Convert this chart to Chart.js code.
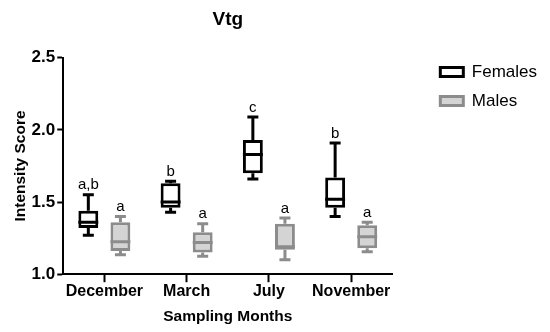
<!DOCTYPE html>
<html>
<head>
<meta charset="utf-8">
<script src="https://cdn.jsdelivr.net/npm/chart.js@4/dist/chart.umd.min.js"></script>
<style>
  html, body { margin: 0; padding: 0; background: #fff; }
  #wrap { width: 550px; height: 332px; }
</style>
</head>
<body>
<div id="wrap"><canvas id="chart"></canvas></div>
<script>
// categories
var months = ['December', 'March', 'July', 'November'];

// females box values
var femalesMin    = [1.27, 1.43, 1.66, 1.40];
var femalesQ1     = [1.32, 1.46, 1.70, 1.46];
var femalesMedian = [1.36, 1.50, 1.83, 1.52];
var femalesQ3     = [1.44, 1.63, 1.93, 1.67];
var femalesMax    = [1.55, 1.645, 2.09, 1.91];
var femalesLetters = ['a,b', 'b', 'c', 'b'];

// males box values
var malesMin    = [1.135, 1.125, 1.10, 1.155];
var malesQ1     = [1.16, 1.15, 1.17, 1.18];
var malesMedian = [1.225, 1.22, 1.19, 1.26];
var malesQ3     = [1.36, 1.29, 1.35, 1.34];
var malesMax    = [1.40, 1.35, 1.39, 1.36];
var malesLetters = ['a', 'a', 'a', 'a'];

// y ticks
var yTicks = [1.0, 1.5, 2.0, 2.5];

var FONT = 'Liberation Sans, Arial, sans-serif';

function cObj(id) {
    return document.getElementById(id);
}

function boxRange(q1, q3) {
    var out = [];
    for (let i = 0; i < q1.length; i++) {
        out.push([q1[i], q3[i]]);
    }
    return out;
}

// whiskers, medians and letters on top of the floating bars
var boxExtras = {
    id: 'boxExtras',
    afterDatasetsDraw: function (chart) {
        var ctx = chart.ctx;
        var y = chart.scales.y;
        var sets = [
            { min: femalesMin, med: femalesMedian, q1: femalesQ1, q3: femalesQ3, max: femalesMax, letters: femalesLetters, color: '#000000' },
            { min: malesMin, med: malesMedian, q1: malesQ1, q3: malesQ3, max: malesMax, letters: malesLetters, color: '#8c8c8c' }
        ];
        ctx.save();
        sets.forEach(function (s, di) {
            var meta = chart.getDatasetMeta(di);
            meta.data.forEach(function (bar, i) {
                var x = bar.x;
                var half = bar.width / 2;
                var capHalf = 5.5;
                var yMin = y.getPixelForValue(s.min[i]);
                var yMax = y.getPixelForValue(s.max[i]);
                var yQ1 = y.getPixelForValue(s.q1[i]);
                var yQ3 = y.getPixelForValue(s.q3[i]);
                var yMed = y.getPixelForValue(s.med[i]);
                ctx.strokeStyle = s.color;
                ctx.lineWidth = 3;
                ctx.lineCap = 'butt';
                ctx.beginPath();
                ctx.moveTo(x, yQ3); ctx.lineTo(x, yMax);
                ctx.moveTo(x, yQ1); ctx.lineTo(x, yMin);
                ctx.moveTo(x - capHalf, yMax); ctx.lineTo(x + capHalf, yMax);
                ctx.moveTo(x - capHalf, yMin); ctx.lineTo(x + capHalf, yMin);
                ctx.moveTo(x - half, yMed); ctx.lineTo(x + half, yMed);
                ctx.stroke();
                ctx.fillStyle = '#000000';
                ctx.font = '15px "Liberation Sans", Arial, sans-serif';
                ctx.textAlign = 'center';
                ctx.textBaseline = 'bottom';
                ctx.fillText(s.letters[i], x, yMax - 2);
            });
        });
        ctx.restore();
    }
};

var myChart = new Chart(cObj('chart'), {
    type: 'bar',
    data: {
        labels: months,
        datasets: [{
            label: 'Females',
            data: boxRange(femalesQ1, femalesQ3),
            backgroundColor: '#ffffff',
            borderColor: '#000000',
            borderWidth: 3,
            borderSkipped: false
        }, {
            label: 'Males',
            data: boxRange(malesQ1, malesQ3),
            backgroundColor: '#d4d4d4',
            borderColor: '#8c8c8c',
            borderWidth: 3,
            borderSkipped: false
        }]
    },
    options: {
        responsive: true,
        maintainAspectRatio: false,
        animation: false,
        layout: {
            padding: { left: 0, right: 3, top: 0, bottom: 0 }
        },
        datasets: {
            bar: {
                categoryPercentage: 0.78,
                barPercentage: 0.62
            }
        },
        scales: {
            x: {
                grid: {
                    display: true,
                    drawOnChartArea: false,
                    drawTicks: true,
                    offset: false,
                    tickLength: 8,
                    tickWidth: 2,
                    color: '#000000'
                },
                border: { color: '#000000', width: 2 },
                ticks: {
                    color: '#000000',
                    padding: 0,
                    autoSkip: false,
                    maxRotation: 0,
                    minRotation: 0,
                    font: { family: FONT, size: 16, weight: 'bold' }
                },
                title: {
                    display: true,
                    text: 'Sampling Months',
                    color: '#000000',
                    padding: { top: 6, bottom: 6 },
                    font: { family: FONT, size: 15.5, weight: 'bold' }
                }
            },
            y: {
                min: 1,
                max: 2.5,
                afterBuildTicks: function (scale) {
                    scale.ticks = yTicks.map(function (v) { return { value: v }; });
                },
                grid: {
                    display: true,
                    drawOnChartArea: false,
                    drawTicks: true,
                    tickLength: 6,
                    tickWidth: 2,
                    color: '#000000'
                },
                border: { color: '#000000', width: 2 },
                ticks: {
                    color: '#000000',
                    padding: 2,
                    callback: function (v) { return Number(v).toFixed(1); },
                    font: { family: FONT, size: 17, weight: 'bold' }
                },
                title: {
                    display: true,
                    text: 'Intensity Score',
                    color: '#000000',
                    padding: { top: 11, bottom: 0 },
                    font: { family: FONT, size: 15.5, weight: 'bold' }
                }
            },
            // empty space between the plot and the legend
            gap: {
                position: 'right',
                display: true,
                grid: { display: false },
                border: { display: false },
                ticks: { display: false },
                afterFit: function (scale) { scale.width = 36; }
            }
        },
        plugins: {
            title: {
                display: true,
                text: 'Vtg',
                color: '#000000',
                fullSize: false,
                padding: { top: 8, bottom: 27 },
                font: { family: FONT, size: 19, weight: 'bold' }
            },
            legend: {
                display: true,
                position: 'right',
                align: 'start',
                maxWidth: 200,
                title: {
                    display: true,
                    text: ' ',
                    padding: { top: 37, bottom: 0 },
                    font: { size: 12 }
                },
                labels: {
                    color: '#000000',
                    boxWidth: 23,
                    boxHeight: 9,
                    padding: 12,
                    font: { family: FONT, size: 17 }
                }
            },
            tooltip: { enabled: false }
        }
    },
    plugins: [boxExtras]
});
</script>
</body>
</html>
